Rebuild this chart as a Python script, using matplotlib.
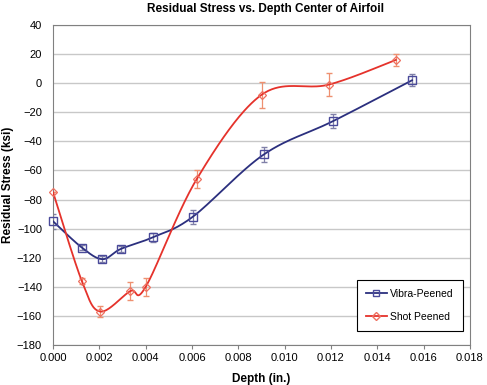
import matplotlib.pyplot as plt
import numpy as np

vibra_x = [0.0, 0.00124, 0.00213, 0.00292, 0.0043, 0.00602, 0.0091, 0.0121, 0.0155]
vibra_y = [-95, -113, -121, -114, -106, -92, -49, -26, 2]
vibra_err = [5, 2, 2, 2, 3, 5, 5, 5, 4]

shot_x = [0.0, 0.00124, 0.00203, 0.00333, 0.0040, 0.0062, 0.0090, 0.0119, 0.0148]
shot_y = [-75, -136, -157, -143, -140, -66, -8, -1, 16]
shot_err = [0, 2, 4, 6, 6, 6, 9, 8, 4]


def excel_smooth(x, y, n=40):
    # bezier segments like Excel's "smoothed line"
    p = np.column_stack([x, y]).astype(float)
    p = np.vstack([p[0], p, p[-1]])
    out = []
    t = np.linspace(0, 1, n)[:, None]
    for i in range(1, len(p) - 2):
        b0 = p[i]
        b3 = p[i + 1]
        b1 = b0 + (p[i + 1] - p[i - 1]) / 6
        b2 = b3 - (p[i + 2] - p[i]) / 6
        seg = (1 - t) ** 3 * b0 + 3 * (1 - t) ** 2 * t * b1 + 3 * (1 - t) * t ** 2 * b2 + t ** 3 * b3
        out.append(seg)
    out = np.vstack(out)
    return out[:, 0], out[:, 1]


plt.rcParams['font.family'] = ['Liberation Sans', 'DejaVu Sans']

fig = plt.figure(figsize=(4.87, 3.85), dpi=100)
ax = fig.add_axes([0.109, 0.104, 0.856, 0.831])

navy = '#2B2F7E'
red = '#E5322B'

sx, sy = excel_smooth(vibra_x, vibra_y)
ax.plot(sx, sy, color=navy, lw=1.3, zorder=3)
ax.errorbar(vibra_x, vibra_y, yerr=vibra_err, fmt='none', ecolor='#8080A8', elinewidth=0.9, capsize=2.5, zorder=2)
ax.plot(vibra_x, vibra_y, 's', ms=6, mfc='none', mec='#4A4A9A', mew=1.0, zorder=4, clip_on=False)

sx, sy = excel_smooth(shot_x, shot_y)
ax.plot(sx, sy, color=red, lw=1.3, zorder=3)
ax.errorbar(shot_x, shot_y, yerr=shot_err, fmt='none', ecolor='#EE9070', elinewidth=0.9, capsize=2.5, zorder=2)
ax.plot(shot_x, shot_y, 'D', ms=4.5, mfc='none', mec='#EE7060', mew=0.9, zorder=4, clip_on=False)

ax.plot([], [], color=navy, lw=1.3, marker='s', ms=5, mfc='none', mec='#4A4A9A', label='Vibra-Peened')
ax.plot([], [], color=red, lw=1.3, marker='D', ms=4, mfc='none', mec='#EE7060', label='Shot Peened')

ax.set_xlim(0, 0.018)
ax.set_ylim(-180, 40)
ax.set_xticks(np.arange(0, 0.0181, 0.002))
ax.set_xticklabels(['%.3f' % v for v in np.arange(0, 0.0181, 0.002)])
ax.set_yticks(np.arange(-180, 41, 20))
ax.yaxis.grid(True, color='#C8C8C8', lw=1.0)
ax.set_axisbelow(True)
for s in ax.spines.values():
    s.set_color('#808080')
ax.tick_params(axis='x', direction='out', length=3, colors='#808080', labelcolor='black', labelsize=8, pad=3)
ax.tick_params(axis='y', length=0, labelsize=8, pad=8)

fig.text(0.545, 1 - 9 / 385, 'Residual Stress vs. Depth Center of Airfoil', fontsize=8.5,
         fontweight='bold', ha='center', va='center')
ax.set_xlabel('Depth (in.)', fontsize=8.5, fontweight='bold')
ax.xaxis.set_label_coords(0.5, -0.0875)
ax.set_ylabel('Residual Stress (ksi)', fontsize=8.5, fontweight='bold', va='center')
ax.yaxis.set_label_coords(-0.108, 0.5)

leg = ax.legend(loc='lower right', bbox_to_anchor=(0.983, 0.044), fontsize=7.5, fancybox=False,
                edgecolor='black', framealpha=1, handlelength=2.0, handletextpad=0.3,
                borderpad=0.9, labelspacing=1.2, borderaxespad=0)
leg.get_frame().set_linewidth(0.8)

plt.savefig('out.png', dpi=100)
